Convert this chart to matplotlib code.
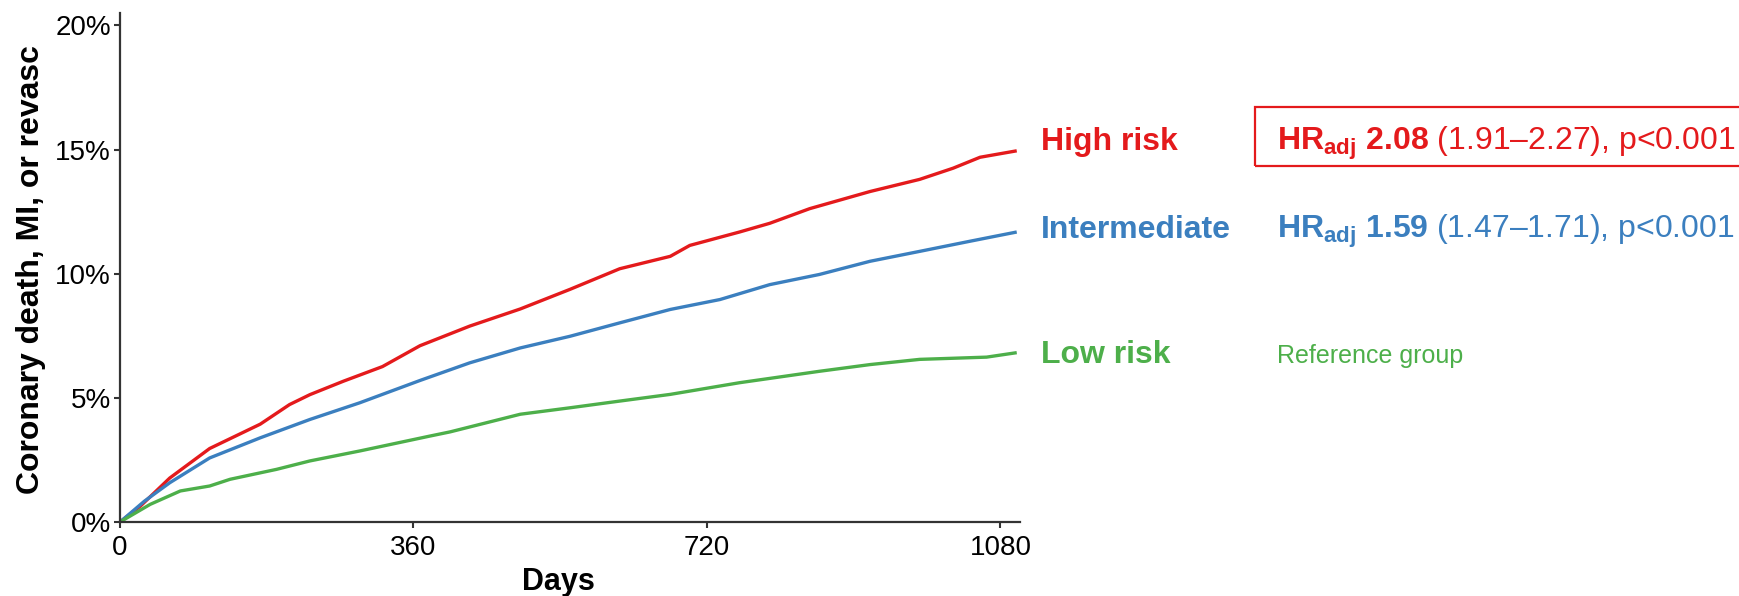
import matplotlib
matplotlib.use("Agg")
import matplotlib.pyplot as plt
from matplotlib.patches import Rectangle

plt.rcParams['font.family'] = ['Liberation Sans', 'DejaVu Sans']
plt.rcParams['mathtext.fontset'] = 'custom'
plt.rcParams['mathtext.rm'] = 'Liberation Sans'
plt.rcParams['mathtext.bf'] = 'Liberation Sans:bold'

# cumulative incidence (%) by risk group, read at selected days
days_high = [0, 25, 61, 110, 172, 208, 233, 274, 322, 368, 429, 491, 552, 613,
             675, 699, 760, 797, 846, 920, 981, 1022, 1055, 1100]
pct_high = [0, 0.64, 1.77, 2.96, 3.94, 4.73, 5.13, 5.67, 6.26, 7.1, 7.89, 8.58, 9.37, 10.2,
            10.7, 11.14, 11.68, 12.03, 12.62, 13.31, 13.8, 14.25, 14.69, 14.95]

days_int = [0, 30, 61, 110, 172, 233, 294, 368, 429, 491, 552, 613, 675, 736,
            797, 858, 920, 981, 1043, 1100]
pct_int = [0, 0.84, 1.58, 2.58, 3.39, 4.13, 4.8, 5.7, 6.41, 7.01, 7.48, 8.02, 8.56, 8.96,
           9.56, 9.97, 10.5, 10.9, 11.31, 11.68]

days_low = [0, 37, 74, 110, 135, 192, 233, 294, 380, 405, 491, 552, 613, 675,
            760, 858, 920, 981, 1063, 1100]
pct_low = [0, 0.71, 1.25, 1.45, 1.72, 2.12, 2.46, 2.86, 3.46, 3.63, 4.34, 4.6, 4.87, 5.14,
           5.61, 6.07, 6.34, 6.55, 6.64, 6.82]

groups = ['High risk', 'Intermediate', 'Low risk']
hr_text = [r'$\mathbf{HR}_{\mathbf{adj}}$ $\mathbf{2.08}$ (1.91–2.27), p<0.001',
           r'$\mathbf{HR}_{\mathbf{adj}}$ $\mathbf{1.59}$ (1.47–1.71), p<0.001',
           'Reference group']

x_ticks = [0, 360, 720, 1080]
y_ticks = [0, 5, 10, 15, 20]

RED = '#E41A1C'
BLUE = '#3B7FBF'
GREEN = '#4DAF4A'
colors = [RED, BLUE, GREEN]

W, H = 1740, 596
fig = plt.figure(figsize=(W / 100, H / 100), dpi=100)

def fx(px):
    return px / W

def fy(py):
    return 1 - py / H

ax = fig.add_axes([fx(120), fy(522), fx(900), (522 - 13) / H])

for d, p, c in zip([days_high, days_int, days_low], [pct_high, pct_int, pct_low], colors):
    ax.plot(d, p, color=c, lw=2.4, solid_capstyle='butt')

ax.set_xlim(0, 1104)
ax.set_ylim(0, 20.5)
ax.set_xticks(x_ticks)
ax.set_xticklabels([str(t) for t in x_ticks])
ax.set_yticks(y_ticks)
ax.set_yticklabels(['%d%%' % t for t in y_ticks])
ax.tick_params(labelsize=20, length=4.5, width=1.5, color='#333333')
ax.tick_params(axis='x', pad=5)
ax.tick_params(axis='y', pad=2)
for s in ['top', 'right']:
    ax.spines[s].set_visible(False)
for s in ['left', 'bottom']:
    ax.spines[s].set_linewidth(1.6)
    ax.spines[s].set_color('#333333')

fig.text(fx(31), fy(270), 'Coronary death, MI, or revasc', rotation=90,
         ha='center', va='center', fontsize=23, fontweight='bold')
fig.text(fx(558), fy(582), 'Days', ha='center', va='center',
         fontsize=22, fontweight='bold')

# group labels and hazard ratios to the right of the curves
baselines = [150, 238, 363]
for name, hr, c, yb in zip(groups, hr_text, colors, baselines):
    fig.text(fx(1041), fy(yb), name, color=c, fontsize=23, fontweight='bold',
             ha='left', va='baseline')
    fs = 18 if hr == 'Reference group' else 23
    fig.text(fx(1277), fy(yb), hr, color=c, fontsize=fs, ha='left', va='baseline')

fig.add_artist(Rectangle((fx(1255), fy(166)), fx(600), (166 - 107) / H,
                         transform=fig.transFigure, fill=False,
                         edgecolor=RED, lw=1.6))

fig.savefig('out.png', dpi=100)
